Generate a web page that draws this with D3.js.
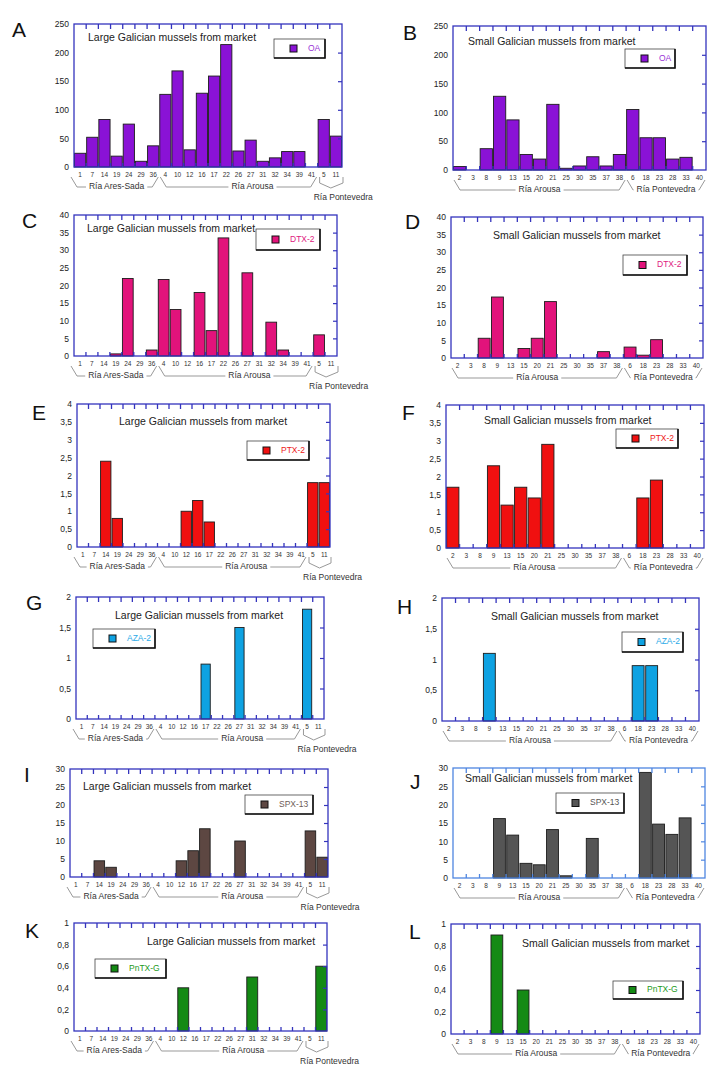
<!DOCTYPE html>
<html><head><meta charset="utf-8">
<script src="https://cdn.jsdelivr.net/npm/d3@7"></script>
<style>
body{margin:0;background:#fff}
svg{display:block}
text{font-family:"Liberation Sans",Arial,sans-serif}
</style>
</head><body>
<svg id="c" width="720" height="1077"></svg>
<script>
// ---------------- DATA ----------------
const largeCats = ["1","7","14","19","24","29","36","4","10","12","16","17","22","26","27","31","32","34","39","41","5","11"];
const smallCats = ["2","3","8","9","13","15","20","21","25","30","35","37","38","6","18","23","28","33","40"];

const oaLarge   = [24,52,83,19,75,10,37,127,168,30,129,159,214,28,47,10,16,27,27,0,83,54];
const oaSmall   = [6,0,37,128,87,27,19,114,3,7,23,7,27,105,56,56,19,22,0];
const dtxLarge  = [0,0,0,0.6,22,0,1.7,21.7,13.2,0,18,7.2,33.5,0,23.6,0,9.6,1.7,0,0,6,0];
const dtxSmall  = [0,0,5.6,17.3,0,2.7,5.6,16,0,0,0,1.8,0,3.1,0.8,5.2,0,0,0];
const ptxLarge  = [0,0,2.4,0.8,0,0,0,0,0,1.0,1.3,0.7,0,0,0,0,0,0,0,0,1.8,1.8];
const ptxSmall  = [1.7,0,0,2.3,1.2,1.7,1.4,2.9,0,0,0,0,0,0,1.4,1.9,0,0,0];
const azaLarge  = [0,0,0,0,0,0,0,0,0,0,0,0.9,0,0,1.5,0,0,0,0,0,1.8,0];
const azaSmall  = [0,0,0,1.1,0,0,0,0,0,0,0,0,0,0,0.9,0.9,0,0,0];
const spxLarge  = [0,0,4.5,2.7,0,0,0,0,0,4.5,7.3,13.4,0,0,10,0,0,0,0,0,12.8,5.5];
const spxSmall  = [0,0,0,16.2,11.7,4,3.6,13.2,0.6,0,10.8,0,0,0,28.8,14.7,11.9,16.4,0];
const pntxLarge = [0,0,0,0,0,0,0,0,0,0.4,0,0,0,0,0,0.5,0,0,0,0,0,0.6];
const pntxSmall = [0,0,0,0.9,0,0.4,0,0,0,0,0,0,0,0,0,0,0,0,0];

const largeTitle = "Large Galician mussels from market";
const smallTitle = "Small Galician mussels from market";

const regionsLarge = [
  {name:"Ría Ares-Sada", from:"1", to:"36"},
  {name:"Ría Arousa", from:"4", to:"41"},
  {name:"Ría Pontevedra", from:"5", to:"11", brace:true}
];
const regionsSmall = [
  {name:"Ría Arousa", from:"2", to:"38"},
  {name:"Ría Pontevedra", from:"6", to:"40"}
];

const panels = [
  {id:"A", cats:largeCats, values:oaLarge,   series:"OA",     title:largeTitle, yMax:250, tickStep:50},
  {id:"B", cats:smallCats, values:oaSmall,   series:"OA",     title:smallTitle, yMax:250, tickStep:50},
  {id:"C", cats:largeCats, values:dtxLarge,  series:"DTX-2",  title:largeTitle, yMax:40,  tickStep:5},
  {id:"D", cats:smallCats, values:dtxSmall,  series:"DTX-2",  title:smallTitle, yMax:40,  tickStep:5},
  {id:"E", cats:largeCats, values:ptxLarge,  series:"PTX-2",  title:largeTitle, yMax:4,   tickStep:0.5},
  {id:"F", cats:smallCats, values:ptxSmall,  series:"PTX-2",  title:smallTitle, yMax:4,   tickStep:0.5},
  {id:"G", cats:largeCats, values:azaLarge,  series:"AZA-2",  title:largeTitle, yMax:2,   tickStep:0.5},
  {id:"H", cats:smallCats, values:azaSmall,  series:"AZA-2",  title:smallTitle, yMax:2,   tickStep:0.5},
  {id:"I", cats:largeCats, values:spxLarge,  series:"SPX-13", title:largeTitle, yMax:30,  tickStep:5},
  {id:"J", cats:smallCats, values:spxSmall,  series:"SPX-13", title:smallTitle, yMax:30,  tickStep:5},
  {id:"K", cats:largeCats, values:pntxLarge, series:"PnTX-G", title:largeTitle, yMax:1,   tickStep:0.2},
  {id:"L", cats:smallCats, values:pntxSmall, series:"PnTX-G", title:smallTitle, yMax:1,   tickStep:0.2}
];

// ---------------- LAYOUT / STYLE ----------------
const layout = {
  A:{box:[74,24,342,167],  letter:[12,31],  title:[88,38],   legend:[274,39,325,58],   pad:0.08},
  B:{box:[453,26,706,170], letter:[403,34], title:[468,42],  legend:[625,49,675,68],   pad:0.08},
  C:{box:[74,215,337,356], letter:[22,222], title:[87,229],  legend:[256,229,320,250], pad:0.1},
  D:{box:[451,217,703,358],letter:[405,223],title:[493,236], legend:[623,255,687,275], pad:0.1},
  E:{box:[77,404,330,547], letter:[32,414], title:[119,422], legend:[247,441,309,460], pad:0.1},
  F:{box:[446,405,704,548],letter:[402,414],title:[484,421], legend:[616,429,678,448], pad:0.1},
  G:{box:[76,597,324,719], letter:[26,604], title:[115,616], legend:[93,629,155,648],  pad:0.18},
  H:{box:[442,598,699,721],letter:[397,608],title:[491,617], legend:[622,632,683,652], pad:0.12},
  I:{box:[70,769,328,877], letter:[24,776], title:[83,787],  legend:[245,795,313,814], pad:0.1},
  J:{box:[453,768,705,878],letter:[410,783],title:[465,779], legend:[556,793,624,813], pad:0.1},
  K:{box:[74,923,327,1031],letter:[25,932], title:[147,942], legend:[95,959,166,978],  pad:0.05},
  L:{box:[451,924,700,1034],letter:[409,933],title:[522,944],legend:[613,981,683,999], pad:0.1}
};
const barColor = {A:"#8a12d6",B:"#8a12d6",C:"#e2137b",D:"#e2137b",E:"#f01010",F:"#f01010",
  G:"#0ea2e2",H:"#0ea2e2",I:"#5d4742",J:"#555555",K:"#148a14",L:"#148a14"};
const legendTextColor = {A:"#9a33d6",B:"#9a33d6",C:"#e0207f",D:"#e0207f",E:"#ee2020",F:"#ee2020",
  G:"#2aaae8",H:"#2aaae8",I:"#6d5c57",J:"#555555",K:"#229a22",L:"#229a22"};
const axisColor = {J:"#4f86e0"};
const defaultAxisColor = "#3434bd";
const regionLabelShift = {"Ría Arousa|large":14};

const fmt = d3.formatLocale({decimal:",",thousands:".",grouping:[3],currency:["","€"]}).format(".2~f");

const svg = d3.select("#c");

panels.forEach(p => {
  const L = layout[p.id];
  const [x0,y0,x1,y1] = L.box;
  const aCol = axisColor[p.id] || defaultAxisColor;
  const g = svg.append("g");
  const isLarge = p.cats === largeCats;

  const x = d3.scaleBand().domain(p.cats).range([x0,x1]).paddingInner(L.pad).paddingOuter(L.pad/2);
  const y = d3.scaleLinear().domain([0,p.yMax]).range([y1,y0]);
  const tickVals = d3.range(0, p.yMax + p.tickStep/2, p.tickStep);

  // panel letter
  g.append("text").attr("x",L.letter[0]).attr("y",L.letter[1]).attr("dominant-baseline","middle")
    .attr("font-size",21).attr("fill","#111").text(p.id);

  // bars
  const data = p.cats.map((c,i)=>({c, v:p.values[i]})).filter(d=>d.v>0);
  g.append("g").selectAll("rect").data(data).join("rect")
    .attr("x",d=>x(d.c)).attr("width",x.bandwidth())
    .attr("y",d=>y(d.v)).attr("height",d=>y1-y(d.v))
    .attr("fill",barColor[p.id]).attr("stroke","#1c1c1c").attr("stroke-width",0.9);

  // y labels
  const ya = g.append("g").attr("transform",`translate(${x0},0)`)
    .call(d3.axisLeft(y).tickValues(tickVals).tickSize(0).tickPadding(5).tickFormat(fmt));
  ya.select(".domain").remove();
  ya.selectAll("text").attr("font-size",8.5).attr("fill","#222").attr("font-family","Liberation Sans, Arial, sans-serif");

  // right inner ticks
  const yr = g.append("g").attr("transform",`translate(${x1},0)`)
    .call(d3.axisLeft(y).tickValues(tickVals.slice(1,-1)).tickSize(4).tickFormat(""));
  yr.select(".domain").remove();
  yr.selectAll("line").attr("stroke",aCol).attr("stroke-width",1.2);

  // x labels
  const xa = g.append("g").attr("transform",`translate(0,${y1})`)
    .call(d3.axisBottom(x).tickSize(0).tickPadding(5));
  xa.select(".domain").remove();
  xa.selectAll("text").attr("font-size",6.5).attr("fill","#333").attr("font-family","Liberation Sans, Arial, sans-serif");

  // band-boundary ticks top and bottom
  const bounds = p.cats.slice(1).map(c => x(c) - (x.step()-x.bandwidth())/2);
  g.append("g").selectAll("line").data(bounds).join("line")
    .attr("x1",d=>d).attr("x2",d=>d).attr("y1",y0).attr("y2",y0+5)
    .attr("stroke",aCol).attr("stroke-width",1.3);
  g.append("g").selectAll("line").data(bounds).join("line")
    .attr("x1",d=>d).attr("x2",d=>d).attr("y1",y1).attr("y2",y1-4)
    .attr("stroke",aCol).attr("stroke-width",1.3);

  // frame
  g.append("rect").attr("x",x0).attr("y",y0).attr("width",x1-x0).attr("height",y1-y0)
    .attr("fill","none").attr("stroke",aCol).attr("stroke-width",1.3);

  // title
  g.append("text").attr("x",L.title[0]).attr("y",L.title[1]).attr("dominant-baseline","middle")
    .attr("font-size",10.5).attr("fill","#222").text(p.title);

  // legend
  const [lx0,ly0,lx1,ly1] = L.legend;
  const lg = g.append("g");
  lg.append("rect").attr("x",lx0).attr("y",ly0).attr("width",lx1-lx0).attr("height",ly1-ly0)
    .attr("fill","#fff").attr("stroke","#444").attr("stroke-width",0.8);
  lg.append("path").attr("d",`M${lx1},${ly0} V${ly1} H${lx0}`).attr("fill","none")
    .attr("stroke","#111").attr("stroke-width",1.6);
  const cy = (ly0+ly1)/2;
  lg.append("rect").attr("x",lx0+16).attr("y",cy-3.5).attr("width",7).attr("height",7)
    .attr("fill",barColor[p.id]).attr("stroke","#111").attr("stroke-width",1);
  lg.append("text").attr("x",lx0+34).attr("y",cy).attr("dominant-baseline","middle")
    .attr("font-size",8.5).attr("fill",legendTextColor[p.id]).text(p.series);

  // region brackets
  const regions = isLarge ? regionsLarge : regionsSmall;
  const half = (x.step()-x.bandwidth())/2;
  const top = y1+10, mid = y1+20;
  regions.forEach(r => {
    const xl = x(r.from) - half, xr = x(r.to) + x.bandwidth() + half;
    if (r.brace) {
      g.append("path").attr("d",`M${xl+2},${top} V${top+6} L${(xl+xr)/2+1},${top+11} L${xr+1},${top+6} V${top}`)
        .attr("fill","none").attr("stroke","#999").attr("stroke-width",1);
      g.append("text").attr("x",xl-4).attr("y",y1+31).attr("dominant-baseline","middle")
        .attr("font-size",8.5).attr("fill","#333").text(r.name);
    } else {
      const shift = regionLabelShift[r.name + "|" + (isLarge?"large":"small")] || 0;
      const cx = (xl+xr)/2 + shift;
      const t = g.append("text").attr("x",cx).attr("y",mid).attr("text-anchor","middle")
        .attr("dominant-baseline","middle").attr("font-size",8.5).attr("fill","#333").text(r.name);
      const w = t.node().getComputedTextLength();
      const sx = (r === regions[0] && isLarge) ? x0-3 : xl+1;
      g.append("path").attr("d",`M${sx},${top} L${sx+6},${mid} H${cx-w/2-3}`)
        .attr("fill","none").attr("stroke","#999").attr("stroke-width",1);
      g.append("path").attr("d",`M${cx+w/2+3},${mid} H${xr-7} L${xr-1},${top}`)
        .attr("fill","none").attr("stroke","#999").attr("stroke-width",1);
    }
  });
});
</script>
</body></html>
